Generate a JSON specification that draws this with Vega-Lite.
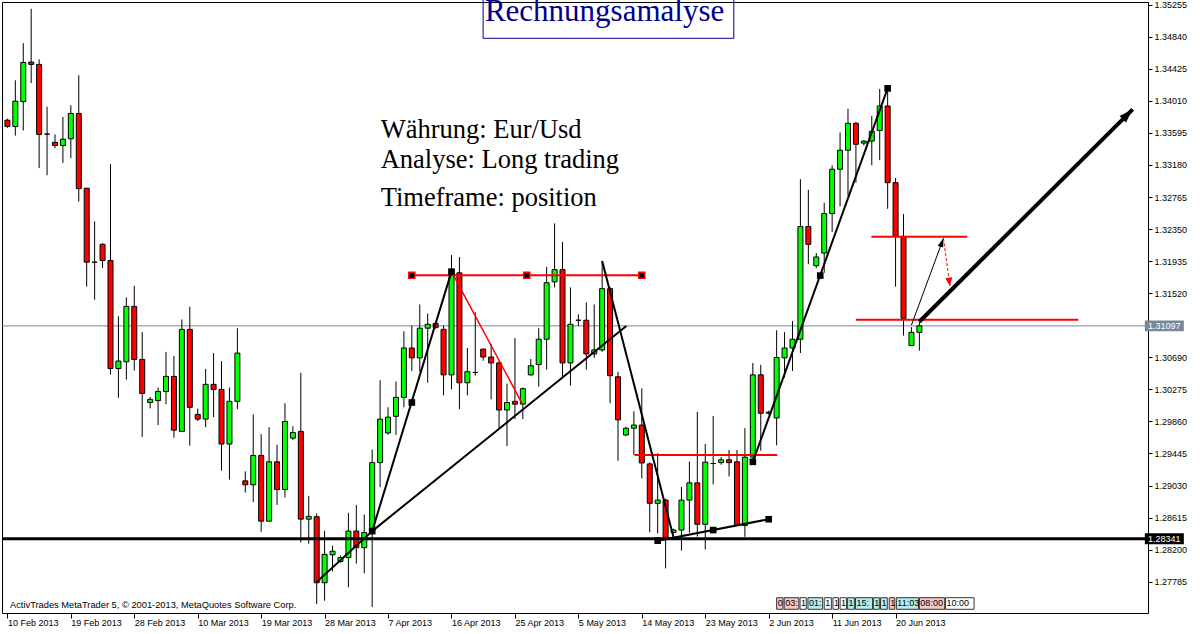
{
"$schema": "https://vega.github.io/schema/vega-lite/v6.json",
"width": 1146, "height": 611,
"autosize": {"type": "none"},
"padding": {"left": 2, "top": 2, "right": 52, "bottom": 21},
"background": "white",
"config": {"view": {"stroke": "#000000", "strokeWidth": 1}, "axis": {"labelFont": "Liberation Sans", "labelFontSize": 9, "labelColor": "#000000", "tickColor": "#000000", "domain": false, "grid": false, "labelOverlap": false}},
"datasets": {
"bars": [
{"d":"2013-02-10","i":0,"o":1.3376,"h":1.3378,"l":1.3366,"c":1.3368},
{"d":"2013-02-11","i":1,"o":1.33678,"h":1.34277,"l":1.3356,"c":1.34006},
{"d":"2013-02-12","i":2,"o":1.34,"h":1.34758,"l":1.33627,"c":1.34507},
{"d":"2013-02-13","i":3,"o":1.34512,"h":1.35203,"l":1.34241,"c":1.34482},
{"d":"2013-02-14","i":4,"o":1.34482,"h":1.34548,"l":1.3314,"c":1.33576},
{"d":"2013-02-15","i":5,"o":1.3358,"h":1.33934,"l":1.33048,"c":1.3358},
{"d":"2013-02-17","i":6,"o":1.33473,"h":1.33576,"l":1.33396,"c":1.33432},
{"d":"2013-02-18","i":7,"o":1.33432,"h":1.33801,"l":1.33207,"c":1.33514},
{"d":"2013-02-19","i":8,"o":1.33519,"h":1.33954,"l":1.33268,"c":1.33847},
{"d":"2013-02-20","i":9,"o":1.33847,"h":1.34343,"l":1.32705,"c":1.32874},
{"d":"2013-02-21","i":10,"o":1.32879,"h":1.32879,"l":1.31605,"c":1.31922},
{"d":"2013-02-22","i":11,"o":1.31922,"h":1.32449,"l":1.31436,"c":1.31922},
{"d":"2013-02-24","i":12,"o":1.32153,"h":1.32168,"l":1.31845,"c":1.31943},
{"d":"2013-02-25","i":13,"o":1.31943,"h":1.33192,"l":1.30468,"c":1.30545},
{"d":"2013-02-26","i":14,"o":1.30545,"h":1.31221,"l":1.30166,"c":1.30642},
{"d":"2013-02-27","i":15,"o":1.30632,"h":1.31466,"l":1.30402,"c":1.31349},
{"d":"2013-02-28","i":16,"o":1.31349,"h":1.31615,"l":1.30519,"c":1.30663},
{"d":"2013-03-01","i":17,"o":1.30663,"h":1.31016,"l":1.2966,"c":1.30223},
{"d":"2013-03-03","i":18,"o":1.30105,"h":1.30177,"l":1.30028,"c":1.30146},
{"d":"2013-03-04","i":19,"o":1.3013,"h":1.30299,"l":1.29813,"c":1.30248},
{"d":"2013-03-05","i":20,"o":1.30248,"h":1.3076,"l":1.30084,"c":1.30443},
{"d":"2013-03-06","i":21,"o":1.30443,"h":1.30709,"l":1.29649,"c":1.29747},
{"d":"2013-03-07","i":22,"o":1.29731,"h":1.3118,"l":1.29731,"c":1.31052},
{"d":"2013-03-08","i":23,"o":1.31052,"h":1.31344,"l":1.29547,"c":1.30043},
{"d":"2013-03-10","i":24,"o":1.29951,"h":1.30028,"l":1.29864,"c":1.2989},
{"d":"2013-03-11","i":25,"o":1.2989,"h":1.3054,"l":1.29787,"c":1.3034},
{"d":"2013-03-12","i":26,"o":1.3034,"h":1.30745,"l":1.29915,"c":1.30274},
{"d":"2013-03-13","i":27,"o":1.30274,"h":1.30642,"l":1.29224,"c":1.29567},
{"d":"2013-03-14","i":28,"o":1.29567,"h":1.30299,"l":1.29107,"c":1.3012},
{"d":"2013-03-15","i":29,"o":1.3012,"h":1.31067,"l":1.30018,"c":1.30745},
{"d":"2013-03-17","i":30,"o":1.29091,"h":1.29214,"l":1.28938,"c":1.2904},
{"d":"2013-03-18","i":31,"o":1.2904,"h":1.29951,"l":1.28815,"c":1.29419},
{"d":"2013-03-19","i":32,"o":1.29419,"h":1.29695,"l":1.28431,"c":1.28569},
{"d":"2013-03-20","i":33,"o":1.28569,"h":1.29787,"l":1.28569,"c":1.29337},
{"d":"2013-03-21","i":34,"o":1.29337,"h":1.29557,"l":1.28779,"c":1.28979},
{"d":"2013-03-22","i":35,"o":1.28979,"h":1.30095,"l":1.28876,"c":1.29859},
{"d":"2013-03-24","i":36,"o":1.29644,"h":1.29798,"l":1.29619,"c":1.29716},
{"d":"2013-03-25","i":37,"o":1.29731,"h":1.30489,"l":1.28293,"c":1.28595},
{"d":"2013-03-26","i":38,"o":1.28595,"h":1.28897,"l":1.28277,"c":1.28631},
{"d":"2013-03-27","i":39,"o":1.28627,"h":1.2867,"l":1.27496,"c":1.27772},
{"d":"2013-03-28","i":40,"o":1.27772,"h":1.28445,"l":1.27539,"c":1.28139},
{"d":"2013-03-29","i":41,"o":1.28134,"h":1.28252,"l":1.27919,"c":1.2818},
{"d":"2013-03-31","i":42,"o":1.28047,"h":1.28125,"l":1.2803,"c":1.28098},
{"d":"2013-04-01","i":43,"o":1.28098,"h":1.28677,"l":1.27714,"c":1.28441},
{"d":"2013-04-02","i":44,"o":1.28441,"h":1.28779,"l":1.2802,"c":1.28226},
{"d":"2013-04-03","i":45,"o":1.28226,"h":1.28655,"l":1.27894,"c":1.28421},
{"d":"2013-04-04","i":46,"o":1.28421,"h":1.29496,"l":1.27458,"c":1.29327},
{"d":"2013-04-05","i":47,"o":1.29327,"h":1.30394,"l":1.29008,"c":1.2989},
{"d":"2013-04-07","i":48,"o":1.29711,"h":1.30043,"l":1.2969,"c":1.29915},
{"d":"2013-04-08","i":49,"o":1.29926,"h":1.30376,"l":1.29685,"c":1.30171},
{"d":"2013-04-09","i":50,"o":1.30171,"h":1.31026,"l":1.30043,"c":1.30811},
{"d":"2013-04-10","i":51,"o":1.30811,"h":1.311,"l":1.30514,"c":1.30683},
{"d":"2013-04-11","i":52,"o":1.30683,"h":1.31374,"l":1.30504,"c":1.31067},
{"d":"2013-04-12","i":53,"o":1.31067,"h":1.31257,"l":1.30361,"c":1.31118},
{"d":"2013-04-14","i":54,"o":1.31129,"h":1.3115,"l":1.3106,"c":1.31077},
{"d":"2013-04-15","i":55,"o":1.31052,"h":1.31103,"l":1.30197,"c":1.30463},
{"d":"2013-04-16","i":56,"o":1.30463,"h":1.32014,"l":1.30274,"c":1.3181},
{"d":"2013-04-17","i":57,"o":1.31784,"h":1.31989,"l":1.30018,"c":1.30361},
{"d":"2013-04-18","i":58,"o":1.30361,"h":1.30811,"l":1.30197,"c":1.30504},
{"d":"2013-04-19","i":59,"o":1.30494,"h":1.31272,"l":1.30453,"c":1.30494},
{"d":"2013-04-21","i":60,"o":1.30796,"h":1.308,"l":1.30647,"c":1.30694},
{"d":"2013-04-22","i":61,"o":1.30694,"h":1.30862,"l":1.30146,"c":1.30617},
{"d":"2013-04-23","i":62,"o":1.30617,"h":1.3064,"l":1.29762,"c":1.30008},
{"d":"2013-04-24","i":63,"o":1.30008,"h":1.3035,"l":1.29542,"c":1.30105},
{"d":"2013-04-25","i":64,"o":1.3012,"h":1.30939,"l":1.2989,"c":1.30084},
{"d":"2013-04-26","i":65,"o":1.30084,"h":1.303,"l":1.2989,"c":1.30284},
{"d":"2013-04-28","i":66,"o":1.30463,"h":1.30668,"l":1.30453,"c":1.30581},
{"d":"2013-04-29","i":67,"o":1.30596,"h":1.31067,"l":1.3031,"c":1.30924},
{"d":"2013-04-30","i":68,"o":1.30924,"h":1.31861,"l":1.3053,"c":1.31656},
{"d":"2013-05-01","i":69,"o":1.31667,"h":1.32424,"l":1.31595,"c":1.31825},
{"d":"2013-05-02","i":70,"o":1.31825,"h":1.32183,"l":1.30427,"c":1.30617},
{"d":"2013-05-03","i":71,"o":1.30617,"h":1.31595,"l":1.30325,"c":1.31118},
{"d":"2013-05-05","i":72,"o":1.3117,"h":1.31246,"l":1.31093,"c":1.3117},
{"d":"2013-05-06","i":73,"o":1.3117,"h":1.314,"l":1.3053,"c":1.30734},
{"d":"2013-05-07","i":74,"o":1.30734,"h":1.31374,"l":1.30683,"c":1.30786},
{"d":"2013-05-08","i":75,"o":1.30786,"h":1.31937,"l":1.3076,"c":1.31579},
{"d":"2013-05-09","i":76,"o":1.31579,"h":1.316,"l":1.30095,"c":1.30453},
{"d":"2013-05-10","i":77,"o":1.30438,"h":1.30504,"l":1.29352,"c":1.2988},
{"d":"2013-05-12","i":78,"o":1.29685,"h":1.2979,"l":1.2967,"c":1.29772},
{"d":"2013-05-13","i":79,"o":1.29772,"h":1.29992,"l":1.29425,"c":1.29813},
{"d":"2013-05-14","i":80,"o":1.29813,"h":1.30288,"l":1.29123,"c":1.29322},
{"d":"2013-05-15","i":81,"o":1.2931,"h":1.2933,"l":1.28425,"c":1.288},
{"d":"2013-05-16","i":82,"o":1.288,"h":1.2945,"l":1.28411,"c":1.28842},
{"d":"2013-05-17","i":83,"o":1.28842,"h":1.2886,"l":1.27957,"c":1.28344},
{"d":"2013-05-19","i":84,"o":1.28424,"h":1.2847,"l":1.2841,"c":1.28454},
{"d":"2013-05-20","i":85,"o":1.28454,"h":1.29012,"l":1.28188,"c":1.28842},
{"d":"2013-05-21","i":86,"o":1.28842,"h":1.2934,"l":1.2842,"c":1.29065},
{"d":"2013-05-22","i":87,"o":1.29065,"h":1.29985,"l":1.2837,"c":1.28528},
{"d":"2013-05-23","i":88,"o":1.28528,"h":1.29568,"l":1.28202,"c":1.29333},
{"d":"2013-05-24","i":89,"o":1.29315,"h":1.2993,"l":1.29045,"c":1.29315},
{"d":"2013-05-26","i":90,"o":1.29327,"h":1.294,"l":1.293,"c":1.29363},
{"d":"2013-05-27","i":91,"o":1.29363,"h":1.29491,"l":1.29148,"c":1.29327},
{"d":"2013-05-28","i":92,"o":1.29337,"h":1.29491,"l":1.28513,"c":1.28513},
{"d":"2013-05-29","i":93,"o":1.28513,"h":1.29773,"l":1.28366,"c":1.29398},
{"d":"2013-05-30","i":94,"o":1.29398,"h":1.30617,"l":1.2938,"c":1.30463},
{"d":"2013-05-31","i":95,"o":1.30463,"h":1.30593,"l":1.2948,"c":1.29966},
{"d":"2013-06-02","i":96,"o":1.29966,"h":1.3,"l":1.2995,"c":1.2998},
{"d":"2013-06-03","i":97,"o":1.29905,"h":1.3104,"l":1.2955,"c":1.30688},
{"d":"2013-06-04","i":98,"o":1.30683,"h":1.31016,"l":1.30427,"c":1.30811},
{"d":"2013-06-05","i":99,"o":1.30811,"h":1.3116,"l":1.30514,"c":1.30924},
{"d":"2013-06-06","i":100,"o":1.30924,"h":1.32997,"l":1.30745,"c":1.32383},
{"d":"2013-06-07","i":101,"o":1.32383,"h":1.32859,"l":1.31896,"c":1.32153},
{"d":"2013-06-09","i":102,"o":1.31876,"h":1.3204,"l":1.31845,"c":1.31989},
{"d":"2013-06-10","i":103,"o":1.3204,"h":1.3269,"l":1.31784,"c":1.32552},
{"d":"2013-06-11","i":104,"o":1.32552,"h":1.33176,"l":1.32311,"c":1.33125},
{"d":"2013-06-12","i":105,"o":1.33125,"h":1.33601,"l":1.32644,"c":1.33371},
{"d":"2013-06-13","i":106,"o":1.33371,"h":1.33908,"l":1.32782,"c":1.33719},
{"d":"2013-06-14","i":107,"o":1.33719,"h":1.33739,"l":1.32951,"c":1.33448},
{"d":"2013-06-16","i":108,"o":1.33463,"h":1.335,"l":1.33432,"c":1.33489},
{"d":"2013-06-17","i":109,"o":1.33489,"h":1.33816,"l":1.33176,"c":1.33616},
{"d":"2013-06-18","i":110,"o":1.33627,"h":1.34164,"l":1.33243,"c":1.33944},
{"d":"2013-06-19","i":111,"o":1.33944,"h":1.342,"l":1.32613,"c":1.32951},
{"d":"2013-06-20","i":112,"o":1.32951,"h":1.33012,"l":1.31605,"c":1.32255},
{"d":"2013-06-21","i":113,"o":1.32255,"h":1.32545,"l":1.30972,"c":1.31195},
{"d":"2013-06-23","i":114,"o":1.30842,"h":1.3108,"l":1.3084,"c":1.31013},
{"d":"2013-06-24","i":115,"o":1.31013,"h":1.31151,"l":1.30776,"c":1.31097}
],
"levels": [{"p":1.31097,"t":"1.31097","kind":"cur"},{"p":1.28341,"t":"1.28341","kind":"sup"}],
"trend": [
{"x1":39,"p1":1.27781,"x2":46,"p2":1.2844},
{"x1":46,"p1":1.2844,"x2":78.05,"p2":1.31095},
{"x1":46,"p1":1.2844,"x2":56,"p2":1.31799},
{"x1":75,"p1":1.31937,"x2":84,"p2":1.2836},
{"x1":82,"p1":1.28316,"x2":96,"p2":1.28594},
{"x1":94,"p1":1.29337,"x2":111,"p2":1.34172}
],
"redlevels": [
{"x1":51,"p1":1.31751,"x2":80,"p2":1.31751},
{"x1":79.08,"p1":1.29425,"x2":97.08,"p2":1.29425},
{"x1":108.95,"p1":1.32252,"x2":121.04,"p2":1.32252},
{"x1":106.99,"p1":1.31177,"x2":135.04,"p2":1.31177}
],
"reddown": [{"x1":56,"p1":1.31799,"x2":64.9,"p2":1.30095}],
"bigarrow": [{"x1":115,"p1":1.31151,"x2":141.9,"p2":1.339}],
"thinarrow": [{"x1":114,"p1":1.31108,"x2":118.04,"p2":1.32231}],
"redarrow": [{"x1":118.04,"p1":1.32231,"x2":118.86,"p2":1.31613}],
"squares": [{"x":46,"p":1.2844},{"x":51,"p":1.30105},{"x":56,"p":1.31799},{"x":82,"p":1.28316},{"x":89,"p":1.28454},{"x":96,"p":1.28594},{"x":94,"p":1.29337},{"x":102.5,"p":1.31748},{"x":111,"p":1.34172}],
"redsquares": [{"x":51,"p":1.31751},{"x":65.5,"p":1.31751},{"x":80,"p":1.31751}],
"titlebox": [{"x1":59.99,"x2":91.6,"p1":1.3482,"p2":1.3545}],
"title": [{"t":"Rechnungsamalyse","x":75.3,"p":1.35044}],
"notes": [{"t":"Währung: Eur/Usd","x":47.07,"p":1.33525},{"t":"Analyse: Long trading","x":47.07,"p":1.33137},{"t":"Timeframe: position","x":47.07,"p":1.32652}],
"copy": [{"t":"ActivTrades MetaTrader 5, © 2001-2013, MetaQuotes Software Corp.","x":0.33,"p":1.27441}],
"trades": [
{"t":"0","a":97.0,"b":97.8,"k":"s"},{"t":"03:","a":97.95,"b":99.8,"k":"s"},{"t":"1","a":99.95,"b":100.74,"k":"n"},{"t":"01:","a":100.95,"b":102.8,"k":"b"},{"t":"1","a":103.0,"b":103.9,"k":"n"},{"t":"1","a":104.1,"b":104.8,"k":"n"},{"t":"1","a":105.0,"b":105.8,"k":"n"},{"t":"1","a":105.95,"b":106.8,"k":"b"},{"t":"15:","a":106.95,"b":109.1,"k":"b"},{"t":"1","a":109.2,"b":109.95,"k":"b"},{"t":"1","a":110.1,"b":110.95,"k":"b"},{"t":"1","a":111.2,"b":111.9,"k":"s"},{"t":"11:03","a":112.1,"b":114.9,"k":"b"},{"t":"08:00","a":115.0,"b":118.2,"k":"s"},{"t":"10:00","a":118.3,"b":121.9,"k":"n"}
]
},
"layer": [
{"data":{"name":"levels"},"transform":[{"filter":"datum.kind=='cur'"}],"mark":{"type":"rule","color":"#778899","strokeWidth":1},
 "encoding":{"y":{"field":"p","type":"quantitative","scale":{"domain":[1.2738,1.3529],"zero":false,"nice":false},
   "axis":{"orient":"right","title":null,"values":[1.35255,1.3484,1.34425,1.3401,1.33595,1.3318,1.32765,1.3235,1.31935,1.3152,1.3069,1.30275,1.2986,1.29445,1.2903,1.28615,1.282,1.27785],
   "tickCount":60,"format":".5f","tickSize":4,"labelPadding":2,"labelBaseline":"middle","labelOverlap":false,"labelFlush":false,"labelBound":false}}}},
{"data":{"name":"bars"},"mark":{"type":"rule","color":"#000000","strokeWidth":1},
 "encoding":{
  "x":{"field":"i","type":"quantitative","scale":{"domain":[-0.05,143.2],"zero":false,"nice":false},
   "axis":{"orient":"bottom","title":null,"values":[0,8,16,24,32,40,48,56,64,72,80,88,96,104,112],"tickCount":60,
   "labelExpr":"['10 Feb 2013','19 Feb 2013','28 Feb 2013','10 Mar 2013','19 Mar 2013','28 Mar 2013','7 Apr 2013','16 Apr 2013','25 Apr 2013','5 May 2013','14 May 2013','23 May 2013','2 Jun 2013','11 Jun 2013','20 Jun 2013'][round(datum.value/8)]",
   "labelAlign":"left","labelDx":1,"tickSize":5,"labelPadding":0,"labelFlush":false,"labelBound":false,"labelOverlap":false}},
  "y":{"field":"l","type":"quantitative","scale":{"domain":[1.2738,1.3529],"zero":false,"nice":false},
   "axis":{"orient":"right","title":null,"values":[1.35255,1.3484,1.34425,1.3401,1.33595,1.3318,1.32765,1.3235,1.31935,1.3152,1.3069,1.30275,1.2986,1.29445,1.2903,1.28615,1.282,1.27785],
   "tickCount":60,"format":".5f","tickSize":4,"labelPadding":2,"labelBaseline":"middle","labelOverlap":false,"labelFlush":false,"labelBound":false}},
  "y2":{"field":"h"}}},
{"data":{"name":"bars"},"mark":{"type":"bar","width":5,"stroke":"#000000","strokeWidth":1},
 "encoding":{"x":{"field":"i","type":"quantitative"},"y":{"field":"o","type":"quantitative"},"y2":{"field":"c"},
  "fill":{"condition":{"test":"datum.c >= datum.o","value":"#00ff00"},"value":"#ff0000"}}},
{"data":{"name":"levels"},"transform":[{"filter":"datum.kind=='sup'"}],"mark":{"type":"rule","color":"#000000","strokeWidth":3},
 "encoding":{"y":{"field":"p","type":"quantitative"}}},
{"data":{"name":"redlevels"},"mark":{"type":"rule","color":"#ff0000","strokeWidth":2},
 "encoding":{"x":{"field":"x1","type":"quantitative"},"x2":{"field":"x2"},"y":{"field":"p1","type":"quantitative"},"y2":{"field":"p2"}}},
{"data":{"name":"reddown"},"mark":{"type":"rule","color":"#ff0000","strokeWidth":1.5},
 "encoding":{"x":{"field":"x1","type":"quantitative"},"x2":{"field":"x2"},"y":{"field":"p1","type":"quantitative"},"y2":{"field":"p2"}}},
{"data":{"name":"trend"},"mark":{"type":"rule","color":"#000000","strokeWidth":2},
 "encoding":{"x":{"field":"x1","type":"quantitative"},"x2":{"field":"x2"},"y":{"field":"p1","type":"quantitative"},"y2":{"field":"p2"}}},
{"data":{"name":"bigarrow"},"mark":{"type":"rule","color":"#000000","strokeWidth":4},
 "encoding":{"x":{"field":"x1","type":"quantitative"},"x2":{"field":"x2"},"y":{"field":"p1","type":"quantitative"},"y2":{"field":"p2"}}},
{"data":{"name":"bigarrow"},"mark":{"type":"point","shape":"M0,0L0.45,1.4L-0.45,1.4Z","size":400,"angle":45,"filled":true,"color":"#000000","opacity":1},
 "encoding":{"x":{"field":"x2","type":"quantitative"},"y":{"field":"p2","type":"quantitative"}}},
{"data":{"name":"thinarrow"},"mark":{"type":"rule","color":"#000000","strokeWidth":1},
 "encoding":{"x":{"field":"x1","type":"quantitative"},"x2":{"field":"x2"},"y":{"field":"p1","type":"quantitative"},"y2":{"field":"p2"}}},
{"data":{"name":"thinarrow"},"mark":{"type":"point","shape":"M0,0L0.45,1.4L-0.45,1.4Z","size":160,"angle":20,"filled":true,"color":"#000000","opacity":1},
 "encoding":{"x":{"field":"x2","type":"quantitative"},"y":{"field":"p2","type":"quantitative"}}},
{"data":{"name":"redarrow"},"mark":{"type":"rule","color":"#ff0000","strokeWidth":1,"strokeDash":[3,2]},
 "encoding":{"x":{"field":"x1","type":"quantitative"},"x2":{"field":"x2"},"y":{"field":"p1","type":"quantitative"},"y2":{"field":"p2"}}},
{"data":{"name":"redarrow"},"mark":{"type":"point","shape":"M0,0L0.55,1.3L-0.55,1.3Z","size":170,"angle":172,"filled":true,"color":"#ff0000","opacity":1},
 "encoding":{"x":{"field":"x2","type":"quantitative"},"y":{"field":"p2","type":"quantitative"}}},
{"data":{"name":"squares"},"mark":{"type":"point","shape":"square","size":44,"filled":true,"color":"#000000","opacity":1},
 "encoding":{"x":{"field":"x","type":"quantitative"},"y":{"field":"p","type":"quantitative"}}},
{"data":{"name":"redsquares"},"mark":{"type":"point","shape":"square","size":36,"filled":true,"fill":"#000000","stroke":"#ff0000","strokeWidth":1.5,"opacity":1},
 "encoding":{"x":{"field":"x","type":"quantitative"},"y":{"field":"p","type":"quantitative"}}},
{"data":{"name":"titlebox"},"mark":{"type":"rect","fill":null,"fillOpacity":0,"stroke":"#000080","strokeWidth":1},
 "encoding":{"x":{"field":"x1","type":"quantitative"},"x2":{"field":"x2"},"y":{"field":"p1","type":"quantitative"},"y2":{"field":"p2"}}},
{"data":{"name":"title"},"mark":{"type":"text","font":"Liberation Serif","fontSize":31,"color":"#00008b","align":"center","baseline":"alphabetic"},
 "encoding":{"x":{"field":"x","type":"quantitative"},"y":{"field":"p","type":"quantitative"},"text":{"field":"t"}}},
{"data":{"name":"notes"},"mark":{"type":"text","font":"Liberation Serif","fontSize":26.5,"color":"#000000","align":"left","baseline":"alphabetic"},
 "encoding":{"x":{"field":"x","type":"quantitative"},"y":{"field":"p","type":"quantitative"},"text":{"field":"t"}}},
{"data":{"name":"copy"},"mark":{"type":"text","font":"Liberation Sans","fontSize":9.3,"color":"#000000","align":"left","baseline":"alphabetic"},
 "encoding":{"x":{"field":"x","type":"quantitative"},"y":{"field":"p","type":"quantitative"},"text":{"field":"t"}}},
{"data":{"name":"trades"},"mark":{"type":"rect","stroke":"#333333","strokeWidth":1},
 "encoding":{"x":{"field":"a","type":"quantitative"},"x2":{"field":"b"},"y":{"datum":1.27578,"type":"quantitative"},"y2":{"datum":1.27428},
  "fill":{"condition":[{"test":"datum.k=='s'","value":"#f7c6c6"},{"test":"datum.k=='b'","value":"#b4eeee"}],"value":"#ffffff"}}},
{"data":{"name":"trades"},"mark":{"type":"text","font":"Liberation Sans","fontSize":9,"color":"#000000","align":"left","baseline":"middle","dx":1},
 "encoding":{"x":{"field":"a","type":"quantitative"},"y":{"datum":1.27503,"type":"quantitative"},"text":{"field":"t"}}},
{"data":{"name":"levels"},"mark":{"type":"point","shape":"M-1,-0.28L1,-0.28L1,0.28L-1,0.28Z","size":1521,"filled":true,"opacity":1,"strokeWidth":0},
 "encoding":{"x":{"datum":145.89,"type":"quantitative"},"y":{"field":"p","type":"quantitative"},
  "fill":{"condition":{"test":"datum.kind=='cur'","value":"#778899"},"value":"#000000"}}},
{"data":{"name":"levels"},"mark":{"type":"text","font":"Liberation Sans","fontSize":9,"color":"#ffffff","align":"center","baseline":"middle"},
 "encoding":{"x":{"datum":145.89,"type":"quantitative"},"y":{"field":"p","type":"quantitative"},"text":{"field":"t"}}}
]
}
